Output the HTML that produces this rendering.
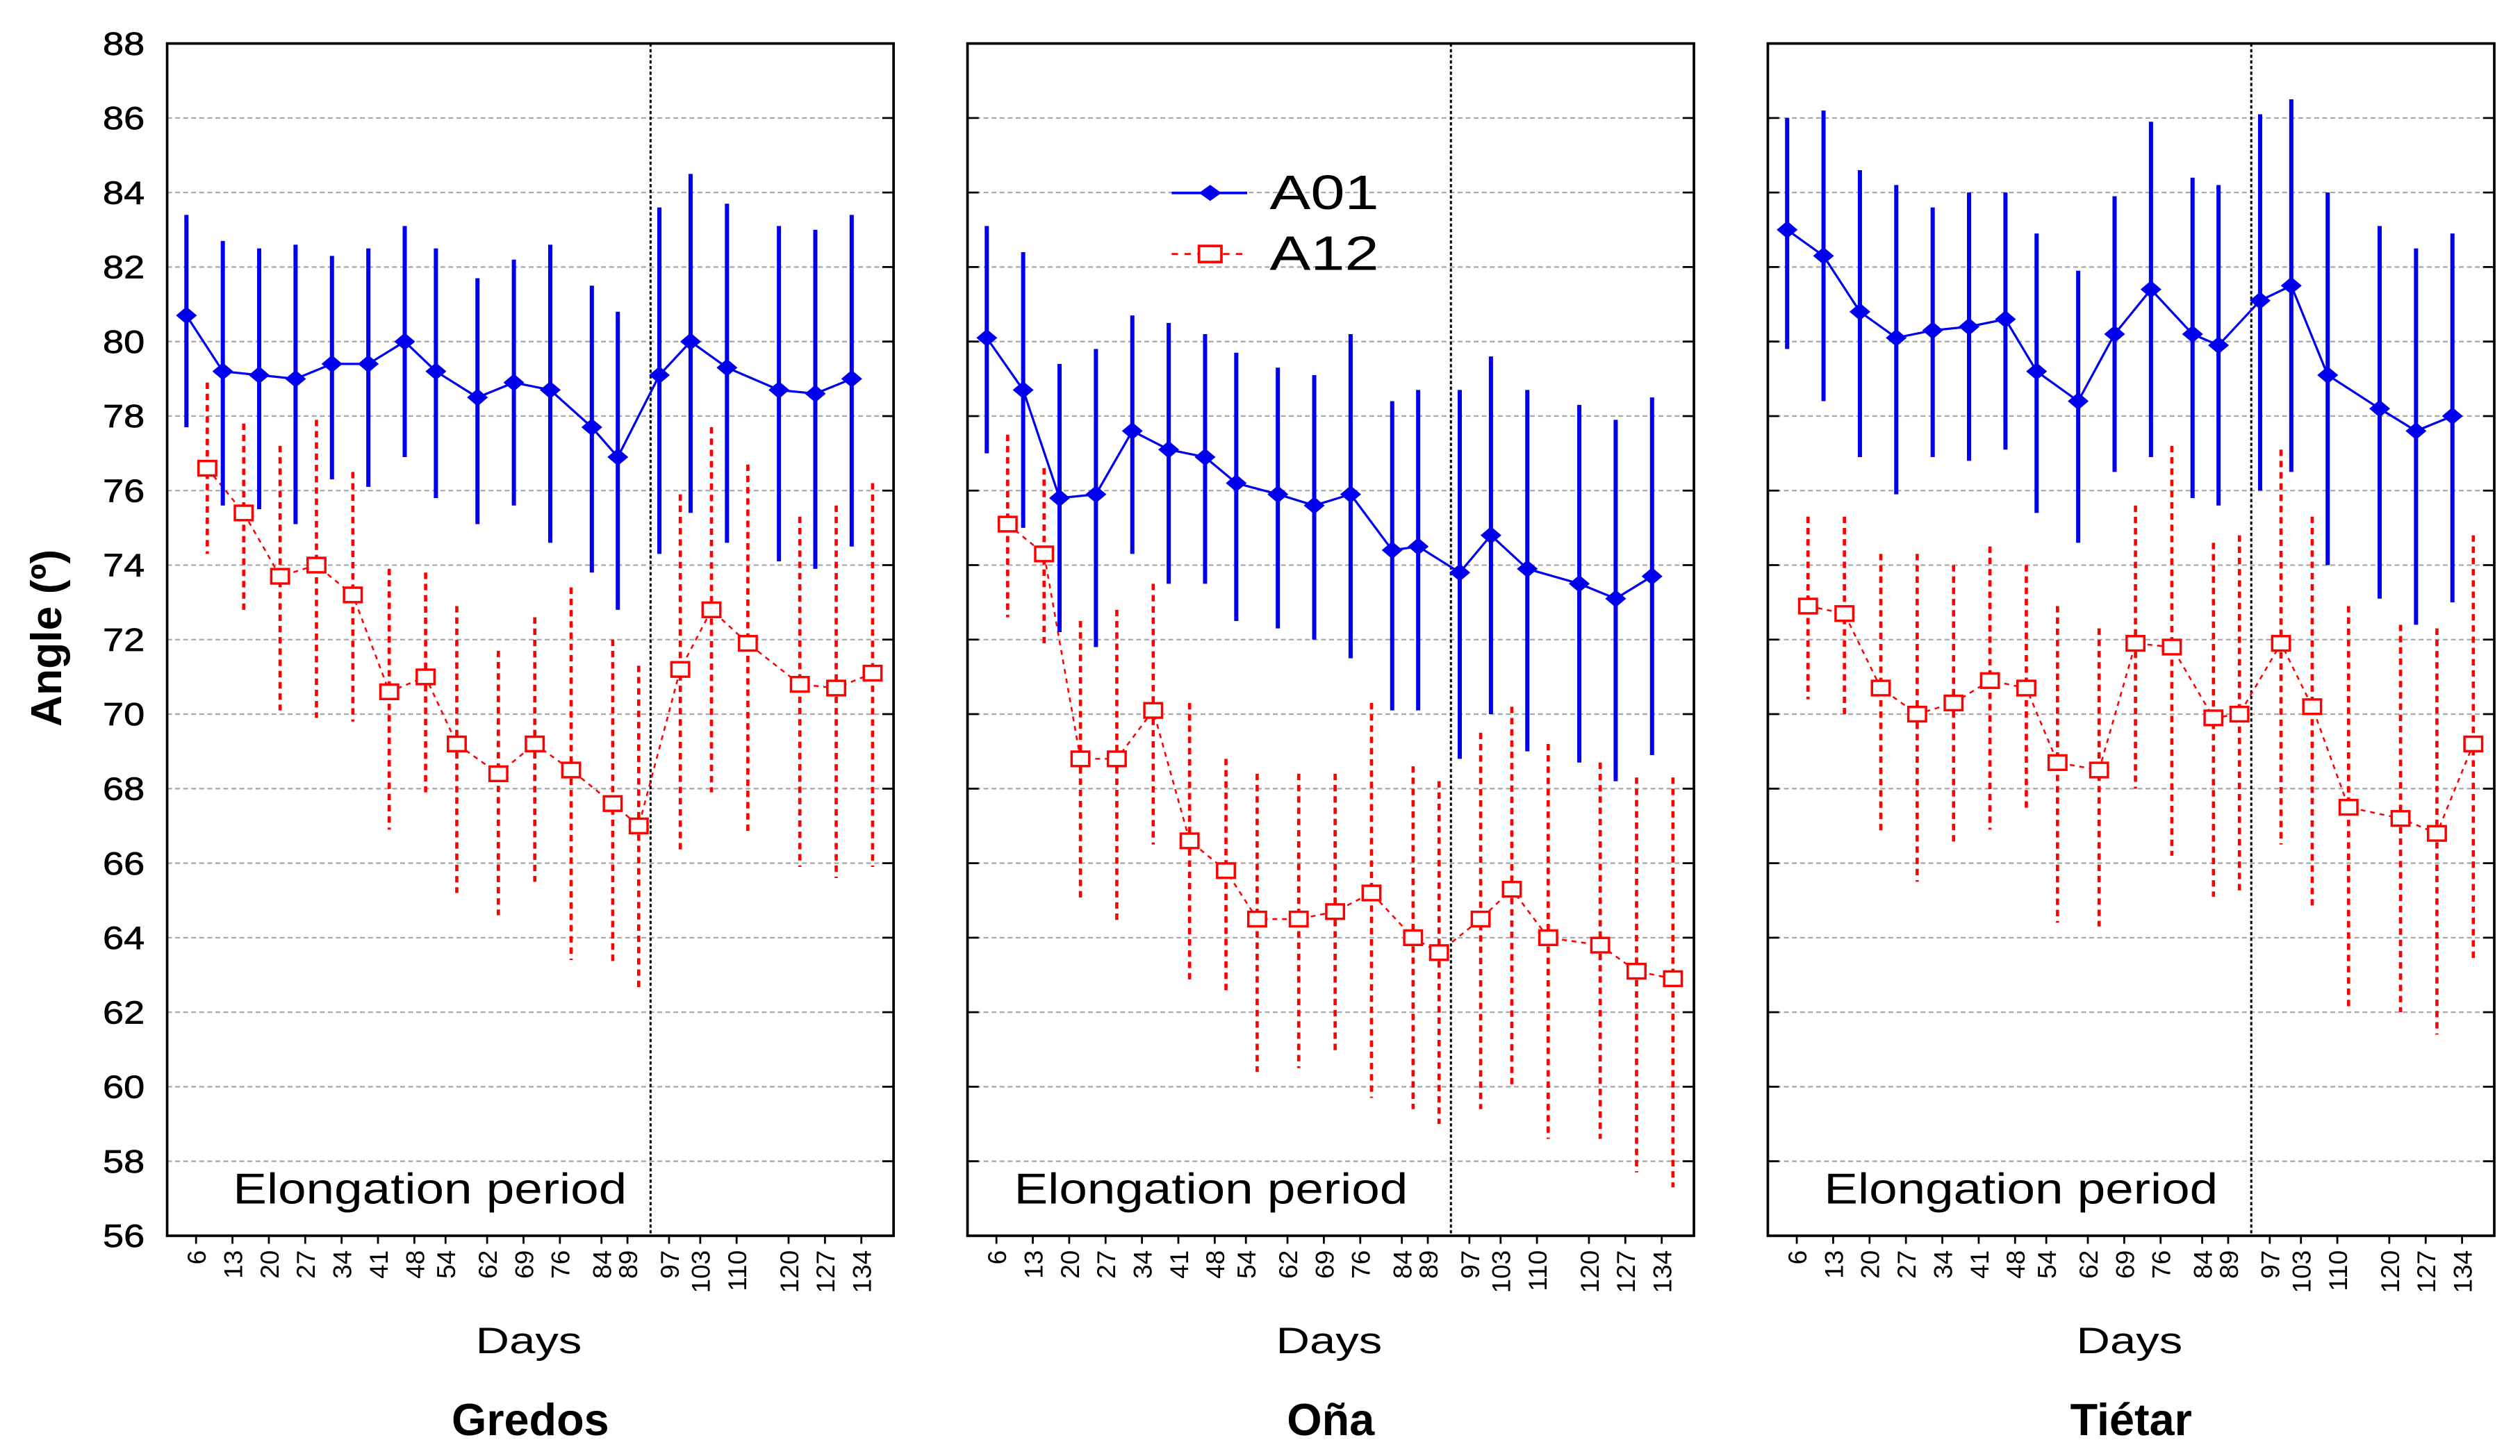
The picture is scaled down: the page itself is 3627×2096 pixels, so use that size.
<!DOCTYPE html>
<html><head><meta charset="utf-8"><style>
html,body{margin:0;padding:0;background:#fff;}
svg{display:block;font-family:"Liberation Sans",Arial,sans-serif;}
</style></head><body>
<svg id="chart" width="3627" height="2096" viewBox="0 0 1568 906" xmlns="http://www.w3.org/2000/svg"></svg>
<script>
const days = [6,13,20,27,34,41,48,54,62,69,76,84,89,97,103,110,120,127,134];
const yTicks = [56,58,60,62,64,66,68,70,72,74,76,78,80,82,84,86,88];
const panelNames = ["Gredos","Oña","Tiétar"];
const gredosA01 = [80.7,79.2,79.1,79.0,79.4,79.4,80.0,79.2,78.5,78.9,78.7,77.7,76.9,79.1,80.0,79.3,78.7,78.6,79.0];
const gredosA01Hi = [83.4,82.7,82.5,82.6,82.3,82.5,83.1,82.5,81.7,82.2,82.6,81.5,80.8,83.6,84.5,83.7,83.1,83.0,83.4];
const gredosA01Lo = [77.7,75.6,75.5,75.1,76.3,76.1,76.9,75.8,75.1,75.6,74.6,73.8,72.8,74.3,75.4,74.6,74.1,73.9,74.5];
const gredosA12 = [76.6,75.4,73.7,74.0,73.2,70.6,71.0,69.2,68.4,69.2,68.5,67.6,67.0,71.2,72.8,71.9,70.8,70.7,71.1];
const gredosA12Hi = [78.9,77.8,77.2,77.9,76.5,73.9,73.8,72.9,71.7,72.6,73.4,72.0,71.3,75.9,77.7,76.7,75.3,75.6,76.2];
const gredosA12Lo = [74.3,72.8,70.1,69.9,69.8,66.9,67.9,65.2,64.6,65.5,63.4,63.3,62.6,66.3,67.9,66.8,65.9,65.6,65.9];
const onaA01 = [80.1,78.7,75.8,75.9,77.6,77.1,76.9,76.2,75.9,75.6,75.9,74.4,74.5,73.8,74.8,73.9,73.5,73.1,73.7];
const onaA01Hi = [83.1,82.4,79.4,79.8,80.7,80.5,80.2,79.7,79.3,79.1,80.2,78.4,78.7,78.7,79.6,78.7,78.3,77.9,78.5];
const onaA01Lo = [77.0,75.0,72.2,71.8,74.3,73.5,73.5,72.5,72.3,72.0,71.5,70.1,70.1,68.8,70.0,69.0,68.7,68.2,68.9];
const onaA12 = [75.1,74.3,68.8,68.8,70.1,66.6,65.8,64.5,64.5,64.7,65.2,64.0,63.6,64.5,65.3,64.0,63.8,63.1,62.9];
const onaA12Hi = [77.5,76.6,72.5,72.8,73.5,70.3,68.8,68.4,68.4,68.4,70.3,68.6,68.2,69.5,70.2,69.2,68.7,68.3,68.3];
const onaA12Lo = [72.6,71.8,65.0,64.4,66.5,62.8,62.5,60.4,60.5,60.9,59.7,59.4,59.0,59.4,60.0,58.6,58.6,57.7,57.3];
const tietarA01 = [83.0,82.3,80.8,80.1,80.3,80.4,80.6,79.2,78.4,80.2,81.4,80.2,79.9,81.1,81.5,79.1,78.2,77.6,78.0];
const tietarA01Hi = [86.0,86.2,84.6,84.2,83.6,84.0,84.0,82.9,81.9,83.9,85.9,84.4,84.2,86.1,86.5,84.0,83.1,82.5,82.9];
const tietarA01Lo = [79.8,78.4,76.9,75.9,76.9,76.8,77.1,75.4,74.6,76.5,76.9,75.8,75.6,76.0,76.5,74.0,73.1,72.4,73.0];
const tietarA12 = [72.9,72.7,70.7,70.0,70.3,70.9,70.7,68.7,68.5,71.9,71.8,69.9,70.0,71.9,70.2,67.5,67.2,66.8,69.2];
const tietarA12Hi = [75.3,75.3,74.3,74.3,74.0,74.5,74.0,72.9,72.3,75.6,77.2,74.6,74.8,77.1,75.3,72.9,72.4,72.3,74.8];
const tietarA12Lo = [70.4,70.0,66.8,65.5,66.5,66.9,67.4,64.4,64.3,68.0,66.2,65.1,65.2,66.5,64.8,62.1,62.0,61.4,63.4];
const elongationEndDay = 95.3;

const panels = [
  {name:panelNames[0], left:104, a01:gredosA01, a01Hi:gredosA01Hi, a01Lo:gredosA01Lo, a12:gredosA12, a12Hi:gredosA12Hi, a12Lo:gredosA12Lo},
  {name:panelNames[1], left:602, a01:onaA01, a01Hi:onaA01Hi, a01Lo:onaA01Lo, a12:onaA12, a12Hi:onaA12Hi, a12Lo:onaA12Lo},
  {name:panelNames[2], left:1100, a01:tietarA01, a01Hi:tietarA01Hi, a01Lo:tietarA01Lo, a12:tietarA12, a12Hi:tietarA12Hi, a12Lo:tietarA12Lo}
];
const W = 452, TOP = 27, BOT = 769;
const svg = document.getElementById('chart');
const NS = 'http://www.w3.org/2000/svg';
function mk(tag, attrs, parent){ const e=document.createElementNS(NS,tag); for(const k in attrs) e.setAttribute(k,attrs[k]); (parent||svg).appendChild(e); return e; }
function yS(v){ return BOT - (v-56)/(88-56)*(BOT-TOP); }
function xS(left, d){ return left + 12 + (d-6)*3.234; }

yTicks.forEach(t=>{
  const tx = mk('text',{x:64,y:yS(t)+7,'font-size':20,fill:'#000',textLength:26,lengthAdjust:'spacingAndGlyphs','stroke':'#000','stroke-width':0.3});
  tx.textContent = t;
  
  
});
const yt = mk('text',{x:0,y:0,transform:'translate(38,397) rotate(-90)','text-anchor':'middle','font-size':27,'font-weight':'bold',fill:'#000'});
yt.textContent = 'Angle (º)';



const elongX = [145,631,1135];
panels.forEach((p,pi)=>{
  const g = mk('g',{});
  
  
  const L = p.left, R = p.left+W;
  yTicks.forEach(t=>{
    if(t>56 && t<88){
      const gl = mk('line',{x1:L,x2:R,y1:yS(t),y2:yS(t),stroke:'#aaa','stroke-width':1,'stroke-dasharray':'3,2'},g);
      
      
      mk('line',{x1:R-7,x2:R,y1:yS(t),y2:yS(t),stroke:'#000','stroke-width':1.2},g);
      if(pi>0){ mk('line',{x1:L,x2:L+7,y1:yS(t),y2:yS(t),stroke:'#000','stroke-width':1.2},g); }
    }
  });
  const frame = mk('rect',{x:L,y:TOP,width:W,height:BOT-TOP,fill:'none',stroke:'#000','stroke-width':1.6},g);
  
  
  const ex = xS(L,elongationEndDay);
  const el = mk('line',{x1:ex,x2:ex,y1:TOP,y2:BOT,stroke:'#000','stroke-width':1.3,'stroke-dasharray':'2,1.5'},g);
  
  
  const et = mk('text',{x:elongX[pi],y:749,'font-size':27,fill:'#000',textLength:245,lengthAdjust:'spacingAndGlyphs'},g);
  et.textContent = 'Elongation period';
  
  
  days.forEach(d=>{
    const x = xS(L,d)+6;
    mk('line',{x1:x,x2:x,y1:BOT,y2:BOT+5,stroke:'#000','stroke-width':1.2},g);
    const lt = mk('text',{x:0,y:0,transform:`translate(${x+6},${778}) rotate(-90)`,'text-anchor':'end','font-size':16,fill:'#000'},g);
    lt.textContent = d;
    
    
  });
  const dt = mk('text',{x:L+192,y:842,'font-size':23,fill:'#000',textLength:66,lengthAdjust:'spacingAndGlyphs'},g);
  dt.textContent = 'Days';
  
  
  const pt = mk('text',{x:L+226,y:893,'text-anchor':'middle','font-size':28,'font-weight':'bold',fill:'#000'},g);
  pt.textContent = p.name;
  
  

  const rx = d => xS(L,d)+13;
  const rl = mk('polyline',{points:days.map((d,i)=>rx(d)+','+yS(p.a12[i])).join(' '),fill:'none',stroke:'#f00','stroke-width':1.1,'stroke-dasharray':'3,3'},g);
  
  
  days.forEach((d,i)=>{
    const eb = mk('line',{x1:rx(d),x2:rx(d),y1:yS(p.a12Hi[i]),y2:yS(p.a12Lo[i]),stroke:'#f00','stroke-width':2,'stroke-dasharray':'4,3'},g);
    
    
  });
  days.forEach((d,i)=>{
    const m = mk('rect',{x:rx(d)-5.5,y:yS(p.a12[i])-4.5,width:11,height:9,fill:'#fff',stroke:'#f00','stroke-width':1.5},g);
    
    
  });
  const bl = mk('polyline',{points:days.map((d,i)=>xS(L,d)+','+yS(p.a01[i])).join(' '),fill:'none',stroke:'#0000ee','stroke-width':1.4},g);
  
  
  days.forEach((d,i)=>{
    const x = xS(L,d);
    const eb = mk('line',{x1:x,x2:x,y1:yS(p.a01Hi[i]),y2:yS(p.a01Lo[i]),stroke:'#0000ee','stroke-width':2.6},g);
    
    
    const y = yS(p.a01[i]);
    const m = mk('path',{d:`M${x-6.5},${y} L${x},${y-5.5} L${x+6.5},${y} L${x},${y+5.5}Z`,fill:'#0000ee'},g);
    
    
  });
});

const lg = mk('g',{});


mk('line',{x1:729,x2:776,y1:120,y2:120,stroke:'#0000ee','stroke-width':1.6},lg);
mk('path',{d:'M746,120 L753,115 L760,120 L753,125Z',fill:'#0000ee'},lg);
const la = mk('text',{x:790,y:130,'font-size':30,fill:'#000',textLength:68,lengthAdjust:'spacingAndGlyphs'},lg);
la.textContent='A01';


mk('line',{x1:729,x2:776,y1:158,y2:158,stroke:'#f00','stroke-width':1.2,'stroke-dasharray':'4,4'},lg);
mk('rect',{x:746,y:153,width:14,height:10,fill:'#fff',stroke:'#f00','stroke-width':1.6},lg);
const lb = mk('text',{x:790,y:168,'font-size':30,fill:'#000',textLength:68,lengthAdjust:'spacingAndGlyphs'},lg);
lb.textContent='A12';


</script>
</body></html>
